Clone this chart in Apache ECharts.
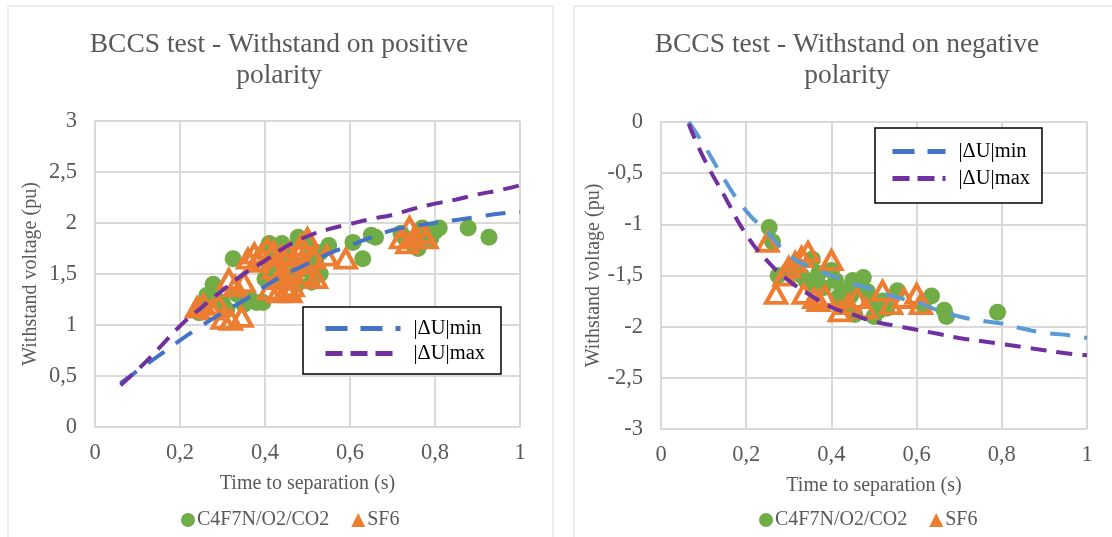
<!DOCTYPE html>
<html>
<head>
    <meta charset="utf-8">
    <title>BCCS test</title>
    <script src="https://cdn.jsdelivr.net/npm/echarts@6/dist/echarts.min.js"></script>
    <style>
        html, body { margin: 0; padding: 0; background: #fff; }
    </style>
</head>
<body>
    <div id="main" style="width: 1112px;height:537px;"></div>
    <script type="text/javascript">
        // tick values / labels
        var xTicks = [0, 0.2, 0.4, 0.6, 0.8, 1];
        var xTickLabels = ['0', '0,2', '0,4', '0,6', '0,8', '1'];
        var posYLabels = ['0', '0,5', '1', '1,5', '2', '2,5', '3'];
        var negYLabels = ['-3', '-2,5', '-2', '-1,5', '-1', '-0,5', '0'];

        // positive polarity: measured withstand points [time, voltage]
        var posGas = [[0.245,1.12],[0.255,1.2],[0.263,1.29],[0.278,1.4],[0.285,1.25],[0.3,1.22],[0.31,1.15],
            [0.325,1.65],[0.335,1.3],[0.35,1.2],[0.365,1.25],[0.38,1.22],[0.395,1.22],[0.41,1.8],[0.41,1.55],
            [0.4,1.45],[0.42,1.72],[0.43,1.6],[0.44,1.8],[0.445,1.48],[0.45,1.75],[0.46,1.65],[0.478,1.86],
            [0.475,1.4],[0.47,1.5],[0.49,1.55],[0.5,1.7],[0.5,1.78],[0.51,1.42],[0.52,1.6],[0.53,1.5],
            [0.53,1.71],[0.55,1.78],[0.607,1.81],[0.63,1.65],[0.65,1.88],[0.66,1.86],[0.72,1.9],[0.73,1.85],
            [0.75,1.78],[0.76,1.75],[0.77,1.95],[0.79,1.85],[0.8,1.92],[0.81,1.95],[0.878,1.95],[0.927,1.86]];
        var posSF6 = [[0.24,1.17],[0.255,1.2],[0.275,1.15],[0.29,1.2],[0.3,1.06],[0.32,1.05],[0.345,1.08],
            [0.315,1.45],[0.33,1.38],[0.35,1.42],[0.36,1.65],[0.375,1.7],[0.38,1.62],[0.39,1.68],[0.405,1.75],
            [0.42,1.72],[0.42,1.55],[0.44,1.68],[0.41,1.35],[0.43,1.32],[0.43,1.45],[0.45,1.35],[0.46,1.32],
            [0.465,1.38],[0.44,1.5],[0.46,1.55],[0.455,1.7],[0.47,1.62],[0.485,1.78],[0.5,1.85],[0.48,1.7],
            [0.49,1.6],[0.5,1.5],[0.52,1.46],[0.515,1.65],[0.545,1.68],[0.59,1.65],
            [0.72,1.85],[0.74,1.96],[0.75,1.85],[0.77,1.9],[0.78,1.85],[0.735,1.8]];
        // positive polarity: |dU| curves
        var posMin = [[0.06,0.43],[0.1,0.55],[0.15,0.7],[0.2,0.85],[0.25,0.99],[0.3,1.12],[0.35,1.24],[0.4,1.38],
            [0.45,1.5],[0.5,1.6],[0.55,1.7],[0.6,1.78],[0.65,1.86],[0.7,1.93],[0.75,1.97],[0.8,2.0],[0.85,2.03],
            [0.9,2.06],[0.95,2.09],[1.0,2.11]];
        var posMax = [[0.06,0.41],[0.1,0.56],[0.15,0.77],[0.2,0.99],[0.25,1.17],[0.3,1.34],[0.35,1.5],[0.4,1.63],
            [0.45,1.77],[0.5,1.87],[0.55,1.94],[0.6,1.99],[0.65,2.04],[0.7,2.08],[0.75,2.14],[0.8,2.19],[0.85,2.23],
            [0.9,2.28],[0.95,2.32],[1.0,2.37]];

        // negative polarity
        var negGas = [[0.254,-1.03],[0.262,-1.17],[0.275,-1.5],[0.3,-1.45],[0.31,-1.42],[0.33,-1.5],[0.34,-1.55],
            [0.355,-1.34],[0.36,-1.6],[0.37,-1.48],[0.38,-1.62],[0.4,-1.45],[0.41,-1.55],[0.415,-1.72],[0.425,-1.65],
            [0.43,-1.8],[0.445,-1.7],[0.45,-1.55],[0.455,-1.88],[0.465,-1.62],[0.475,-1.52],[0.485,-1.66],[0.49,-1.75],
            [0.5,-1.9],[0.51,-1.85],[0.52,-1.75],[0.53,-1.82],[0.555,-1.65],[0.615,-1.78],[0.635,-1.7],[0.665,-1.84],
            [0.67,-1.9],[0.79,-1.86]];
        var negSF6 = [[0.25,-1.17],[0.27,-1.68],[0.29,-1.5],[0.3,-1.42],[0.315,-1.37],[0.33,-1.32],[0.345,-1.27],
            [0.335,-1.68],[0.36,-1.72],[0.37,-1.75],[0.385,-1.7],[0.4,-1.35],[0.42,-1.85],[0.44,-1.78],[0.46,-1.72],
            [0.48,-1.82],[0.52,-1.65],[0.54,-1.78],[0.57,-1.72],[0.6,-1.68],[0.61,-1.78]];
        var negMin = [[0.065,0],[0.1,-0.22],[0.15,-0.57],[0.2,-0.87],[0.25,-1.08],[0.3,-1.3],[0.35,-1.42],[0.4,-1.5],
            [0.45,-1.58],[0.5,-1.64],[0.55,-1.71],[0.6,-1.76],[0.65,-1.84],[0.7,-1.9],[0.75,-1.94],[0.8,-1.97],
            [0.85,-2.02],[0.9,-2.06],[0.95,-2.08],[1.0,-2.11]];
        var negMax = [[0.065,-0.02],[0.1,-0.35],[0.15,-0.73],[0.2,-1.1],[0.25,-1.36],[0.3,-1.55],[0.35,-1.69],
            [0.4,-1.81],[0.45,-1.88],[0.5,-1.95],[0.55,-1.99],[0.6,-2.03],[0.65,-2.07],[0.7,-2.11],[0.75,-2.14],
            [0.8,-2.17],[0.85,-2.2],[0.9,-2.23],[0.95,-2.26],[1.0,-2.28]];

        var FONT = 'Liberation Serif';
        var GREY = '#595959';
        var GRID = '#d9d9d9';

        function xAxisOf(gridIndex) {
            return {
                gridIndex: gridIndex, type: 'value', min: 0, max: 1, interval: 0.2,
                name: 'Time to separation (s)', nameLocation: 'middle', nameGap: 47,
                nameTextStyle: { fontFamily: FONT, fontSize: 20, color: GREY },
                axisLine: { lineStyle: { color: GRID, width: 2 } },
                axisTick: { show: false },
                splitLine: { lineStyle: { color: GRID, width: 2 } },
                axisLabel: {
                    fontFamily: FONT, fontSize: 22.5, color: GREY, margin: 15,
                    formatter: function (v) { return xTickLabels[xTicks.indexOf(Math.round(v * 10) / 10)]; }
                }
            };
        }
        function yAxisOf(gridIndex, min, max, labels, gap) {
            return {
                gridIndex: gridIndex, type: 'value', min: min, max: max, interval: 0.5,
                name: 'Withstand voltage (pu)', nameLocation: 'middle', nameGap: gap,
                nameTextStyle: { fontFamily: FONT, fontSize: 20, color: GREY },
                axisLine: { show: true, lineStyle: { color: GRID, width: 2 } },
                axisTick: { show: false },
                splitLine: { lineStyle: { color: GRID, width: 2 } },
                axisLabel: {
                    fontFamily: FONT, fontSize: 22.5, color: GREY, margin: 18,
                    formatter: function (v) { return labels[Math.round((v - min) / 0.5)]; }
                }
            };
        }
        function gasSeries(idx, data) {
            return { name: 'C4F7N/O2/CO2', type: 'scatter', xAxisIndex: idx, yAxisIndex: idx, data: data,
                symbol: 'circle', symbolSize: 17, itemStyle: { color: '#70ad47', opacity: 1 } };
        }
        function sf6Series(idx, data) {
            return { name: 'SF6', type: 'scatter', xAxisIndex: idx, yAxisIndex: idx, data: data,
                symbol: 'triangle', symbolSize: [20, 18],
                itemStyle: { color: 'rgba(0,0,0,0)', borderColor: '#ed7d31', borderWidth: 4, opacity: 1 } };
        }
        function lineSeries(idx, name, data, color, dash) {
            return { name: name, type: 'line', xAxisIndex: idx, yAxisIndex: idx, data: data,
                symbol: 'none', smooth: true, z: 5,
                lineStyle: { color: color, width: 4, type: dash }, itemStyle: { color: color } };
        }
        function bottomLegend(left) {
            return {
                left: left, top: 505, itemGap: 22, itemWidth: 14, itemHeight: 14,
                textStyle: { fontFamily: FONT, fontSize: 20, color: GREY, padding: [0, 0, 0, -3] },
                data: [
                    { name: 'C4F7N/O2/CO2', icon: 'circle', itemStyle: { color: '#70ad47' } },
                    { name: 'SF6', icon: 'triangle', itemStyle: { color: '#ed7d31', borderWidth: 0 } }
                ],
                selectedMode: false
            };
        }
        function insetLegend(left, top, iconW, pad, gap, minDash, maxDash) {
            return {
                left: left, top: top, orient: 'vertical', itemGap: gap, itemWidth: iconW, itemHeight: 14,
                backgroundColor: '#fff', borderColor: '#000', borderWidth: 1.5, padding: pad,
                itemStyle: { opacity: 0 },
                lineStyle: { width: 5 },
                textStyle: { fontFamily: FONT, fontSize: 20.5, color: '#000', padding: [0, 0, 0, 8] },
                data: [
                    { name: '|ΔU|min', lineStyle: { width: 5, type: minDash } },
                    { name: '|ΔU|max', lineStyle: { width: 5, type: maxDash } }
                ],
                selectedMode: false
            };
        }

        var myChart = echarts.init(document.getElementById('main'));

        var option = {
            animation: false,
            backgroundColor: '#fff',
            graphic: [
                { type: 'rect', shape: { x: 8, y: 6, width: 545, height: 545 },
                  style: { fill: 'none', stroke: GRID, lineWidth: 1 }, z: -10 },
                { type: 'rect', shape: { x: 574, y: 6, width: 545, height: 545 },
                  style: { fill: 'none', stroke: GRID, lineWidth: 1 }, z: -10 }
            ],
            title: [
                { text: 'BCCS test - Withstand on positive\npolarity', left: 274, top: 24, textAlign: 'center',
                  textStyle: { fontFamily: FONT, fontSize: 27.5, fontWeight: 'normal', color: GREY, lineHeight: 31 } },
                { text: 'BCCS test - Withstand on negative\npolarity', left: 842, top: 24, textAlign: 'center',
                  textStyle: { fontFamily: FONT, fontSize: 27.5, fontWeight: 'normal', color: GREY, lineHeight: 31 } }
            ],
            grid: [
                { left: 95, top: 121, width: 425, height: 306 },
                { left: 661, top: 122, width: 426, height: 307 }
            ],
            xAxis: [xAxisOf(0), xAxisOf(1)],
            yAxis: [yAxisOf(0, 0, 3, posYLabels, 54), yAxisOf(1, -3, 0, negYLabels, 50)],
            legend: [
                bottomLegend(176),
                bottomLegend(754),
                insetLegend(303, 307, 75, [11, 16, 10, 20], 4, [22, 13], [17, 8]),
                insetLegend(875, 128, 53, [13, 12, 14, 15], 6, [22, 13], [17, 8])
            ],
            series: [
                gasSeries(0, posGas),
                sf6Series(0, posSF6),
                lineSeries(0, '|ΔU|min', posMin, '#4472c4', [20, 14]),
                lineSeries(0, '|ΔU|max', posMax, '#7030a0', [16, 10]),
                gasSeries(1, negGas),
                sf6Series(1, negSF6),
                lineSeries(1, '|ΔU|min', negMin, '#5b9bd5', [20, 14]),
                lineSeries(1, '|ΔU|max', negMax, '#7030a0', [16, 10])
            ]
        };

        myChart.setOption(option);
    </script>
</body>
</html>
